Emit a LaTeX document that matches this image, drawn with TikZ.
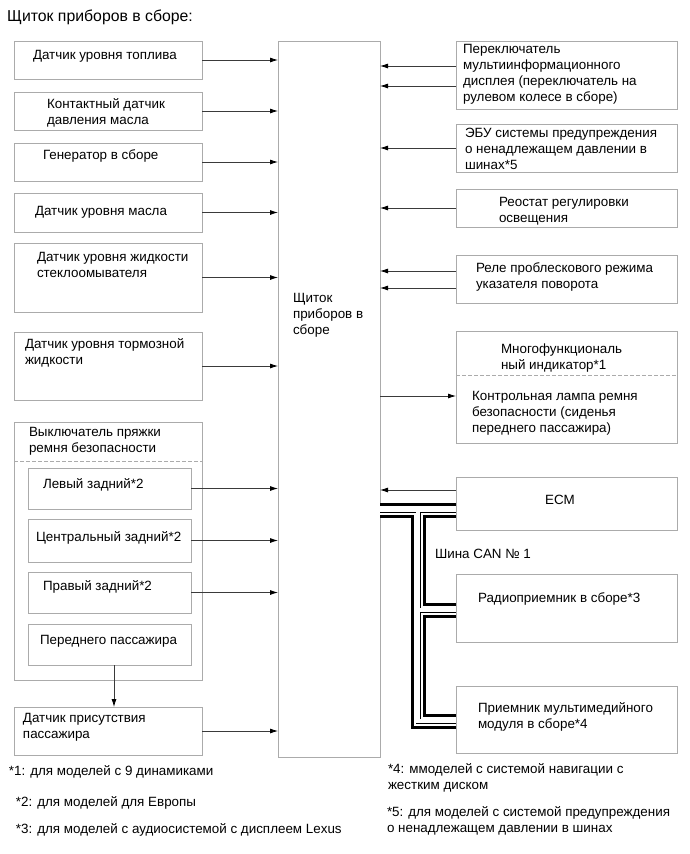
\documentclass[tikz,border=0pt]{standalone}
\usepackage{fontspec}
\setmainfont{Liberation Sans}
\usetikzlibrary{arrows.meta,calc}
\definecolor{boxgray}{HTML}{ABABAB}
\definecolor{linegray}{HTML}{3A3A3A}
\newcommand\bx[5]{\node[box,minimum width={(#4-#2)*1pt},minimum height={(#5-#3)*1pt}] (#1) at ({(#2+#4)/2},{(#3+#5)/2}) {};}
\newcommand\tx[4]{\node[lbl] (#1) at (#2,{#3-11.2}) {\strut #4};}
\begin{document}
\begin{tikzpicture}[x=1pt,y=-1pt,
  box/.style={draw=boxgray,line width=1pt,inner sep=0pt,outer sep=0pt},
  lbl/.style={anchor=north west,inner sep=0pt,outer sep=0pt,align=left,font=\fontsize{13.4}{16.2}\selectfont},
  arr/.style={draw=linegray,line width=0.8pt,-{Latex[length=8pt,width=5pt,color=black]}},
  sep/.style={draw=boxgray,line width=1pt,dash pattern=on 3.5pt off 2.5pt}]
\useasboundingbox[fill=white] (0,0) rectangle (690,854);

% title
\node[anchor=base west,inner sep=0pt,font=\fontsize{15.8}{18}\selectfont] (title) at (7,21) {Щиток приборов в сборе:};

% cluster
\bx{cluster}{278}{41}{380}{757}
\tx{tcl}{293}{302}{Щиток\\приборов в\\сборе}

% left boxes
\bx{b1}{14}{41}{202}{79}
\tx{t1}{33}{59}{Датчик уровня топлива}
\bx{b2}{14}{92}{202}{130}
\tx{t2}{47}{108}{Контактный датчик\\давления масла}
\bx{b3}{14}{143}{202}{181}
\tx{t3}{43}{159}{Генератор в сборе}
\bx{b4}{14}{193}{202}{232}
\tx{t4}{35}{215}{Датчик уровня масла}
\bx{b5}{14}{243}{202}{312}
\tx{t5}{37}{261}{Датчик уровня жидкости\\стеклоомывателя}
\bx{b6}{14}{332}{202}{400}
\tx{t6}{25}{348}{Датчик уровня тормозной\\жидкости}

% seat belt group
\bx{belt}{14}{422}{202}{680}
\tx{tbelt}{29}{436}{Выключатель пряжки\\ремня безопасности}
\coordinate (d1) at (14,461);
\draw[sep] (d1) -- (belt.east |- d1);
\bx{s1}{28}{468}{191}{509}
\tx{ts1}{43}{488}{Левый задний*2}
\bx{s2}{28}{519}{191}{562}
\tx{ts2}{36}{541}{Центральный задний*2}
\bx{s3}{28}{572}{191}{613}
\tx{ts3}{43}{590}{Правый задний*2}
\bx{s4}{28}{624}{191}{665}
\tx{ts4}{40}{644}{Переднего пассажира}

\bx{occ}{14}{707}{202}{755}
\tx{tocc}{23}{722}{Датчик присутствия\\пассажира}

% right boxes
\bx{r1}{456}{41}{677}{109}
\tx{tr1}{463}{53}{Переключатель\\мультиинформационного\\дисплея (переключатель на\\рулевом колесе в сборе)}
\bx{r2}{456}{124}{677}{172}
\tx{tr2}{465}{137}{ЭБУ системы предупреждения\\о ненадлежащем давлении в\\шинах*5}
\draw[boxgray,line width=1pt] (r2.south west) -- (r2.south east);
\bx{r3}{456}{189}{677}{227}
\tx{tr3}{499}{206}{Реостат регулировки\\освещения}
\bx{r4}{456}{255}{677}{303}
\tx{tr4}{476}{272}{Реле проблескового режима\\указателя поворота}
\bx{r5}{456}{331}{677}{443}
\tx{tr5a}{501}{353}{Многофункциональ\\ный индикатор*1}
\coordinate (d2) at (456,375);
\draw[sep] (d2) -- (r5.east |- d2);
\tx{tr5b}{472}{400}{Контрольная лампа ремня\\безопасности (сиденья\\переднего пассажира)}
\bx{ecm}{456}{477}{677}{530}
\node[anchor=base,inner sep=0pt,font=\fontsize{13.4}{16.2}\selectfont] (tecm) at (560,504) {ECM};
\bx{radio}{456}{574}{677}{642}
\tx{tradio}{478}{602}{Радиоприемник в сборе*3}
\bx{mm}{456}{686}{677}{753}
\tx{tmm}{478}{712}{Приемник мультимедийного\\модуля в сборе*4}
\tx{tcan}{435}{558}{Шина CAN № 1}

% left arrows
\foreach \n in {b1,b2,b3,b4,b5,b6,s1,s2,s3,occ}{
  \draw[arr] (\n.east) -- (cluster.west |- \n.east);
}
\coordinate (dn) at (114,0);
\draw[arr] (s4.south -| dn) -- (occ.north -| dn);

% right arrows
\coordinate (p1) at ([yshift=9pt]r1.west);
\coordinate (p2) at ([yshift=-11pt]r1.west);
\coordinate (p3) at ([yshift=8pt]r4.west);
\coordinate (p4) at ([yshift=-9pt]r4.west);
\coordinate (p5) at ([yshift=-9pt]r5.west);
\coordinate (p6) at ([yshift=13.5pt]ecm.west);
\draw[arr] (p1) -- (cluster.east |- p1);
\draw[arr] (p2) -- (cluster.east |- p2);
\draw[arr] (r2.west) -- (cluster.east |- r2.west);
\draw[arr] (r3.west) -- (cluster.east |- r3.west);
\draw[arr] (p3) -- (cluster.east |- p3);
\draw[arr] (p4) -- (cluster.east |- p4);
\draw[arr] (cluster.east |- p5) -- (p5);
\draw[arr] (p6) -- (cluster.east |- p6);

% CAN bus
\coordinate (busB) at ([yshift=-6.5pt]ecm.west);
\coordinate (busA) at (cluster.east |- busB);
\coordinate (busJ) at ($(busA)!0.5!(busB)$);
\coordinate (busD) at ([yshift=-1.5pt]mm.west);
\coordinate (busC) at (busJ |- busD);
\coordinate (busF) at ([yshift=-2pt]radio.west);
\coordinate (busE) at (busJ |- busF);
\foreach \w/\c in {15/black,9/white,5/black,3.2/white}{
  \draw[line width=\w pt,\c,line join=miter] (busA) -- (busB) (busJ) -- (busC) -- (busD) (busE) -- (busF);
}

% footnotes
\tx{f1}{9}{775}{*1: для моделей с 9 динамиками}
\tx{f2}{16}{806}{*2: для моделей для Европы}
\tx{f3}{16}{833}{*3: для моделей с аудиосистемой с дисплеем Lexus}
\tx{f4}{388}{773}{*4: ммоделей с системой навигации с\\жестким диском}
\tx{f5}{387}{816}{*5: для моделей с системой предупреждения\\о ненадлежащем давлении в шинах}
\end{tikzpicture}
\end{document}
